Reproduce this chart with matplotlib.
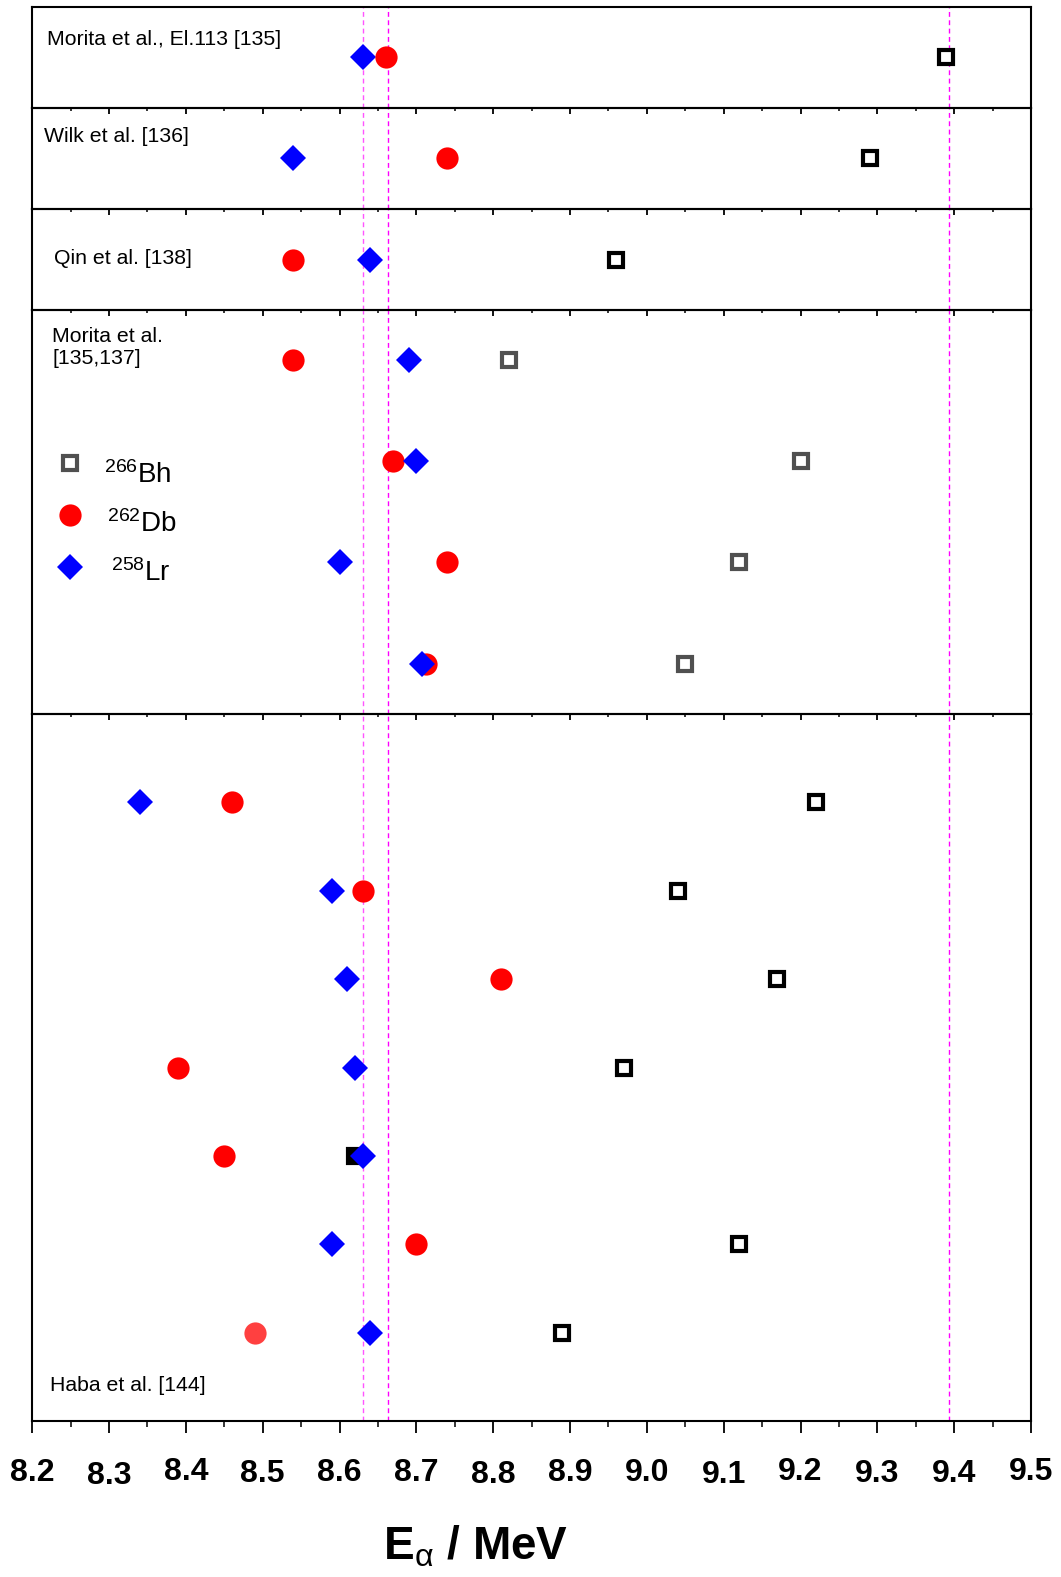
import matplotlib
matplotlib.use('Agg')
import matplotlib.pyplot as plt
import matplotlib.transforms as mtransforms
from matplotlib.ticker import MultipleLocator

plt.rcParams['font.family'] = ['Liberation Sans', 'DejaVu Sans']
plt.rcParams['mathtext.fontset'] = 'custom'
plt.rcParams['mathtext.rm'] = 'Liberation Sans'
plt.rcParams['mathtext.it'] = 'Liberation Sans:italic'
plt.rcParams['mathtext.bf'] = 'Liberation Sans:bold'

# ---- data (alpha energies, MeV), rows listed top -> bottom ----
titles = ['Morita et al., El.113 [135]', 'Wilk et al. [136]', 'Qin et al. [138]',
          'Morita et al.\n[135,137]', 'Haba et al. [144]']
bh = [[9.39], [9.29], [8.96],
      [8.82, 9.20, 9.12, 9.05],
      [9.22, 9.04, 9.17, 8.97, 8.62, 9.12, 8.89]]
db = [[8.66], [8.74], [8.54],
      [8.54, 8.67, 8.74, 8.713],
      [8.46, 8.63, 8.81, 8.39, 8.45, 8.70, 8.49]]
lr = [[8.63], [8.54], [8.64],
      [8.69, 8.70, 8.60, 8.707],
      [8.34, 8.59, 8.61, 8.62, 8.63, 8.59, 8.64]]
ref_lines = [8.63, 8.663, 9.393]
xticks = [8.2, 8.3, 8.4, 8.5, 8.6, 8.7, 8.8, 8.9, 9.0, 9.1, 9.2, 9.3, 9.4, 9.5]
# the original tick labels sit slightly uneven (pixels downwards)
tick_jitter = [0, 2.5, -1, 1, 0, 0, 2, 0, 0, 2, -1, 1, 1, -1]

W, H = 1061, 1577
fig = plt.figure(figsize=(W / 100, H / 100), dpi=100)
fig.patch.set_facecolor('white')

# panel edges in pixels (top, bottom)
edges = [(7, 107.6), (107.6, 209.2), (209.2, 309.8), (309.8, 714.1), (714.1, 1421.1)]
left_px, right_px = 32.2, 1031

title_pos = [(0.015, 0.68, 'center'), (0.012, 0.713, 'center'), (0.022, 0.51, 'center'),
             (0.020, 0.957, 'top'), (0.018, 0.051, 'center')]

RED = '#ff0000'
BLUE = '#0000ff'

axes = []
for i in range(5):
    top, bot = edges[i]
    ax = fig.add_axes([left_px / W, 1 - bot / H, (right_px - left_px) / W, (bot - top) / H])
    ax.patch.set_visible(False)
    axes.append(ax)
    n = len(bh[i])
    ax.set_xlim(8.2, 9.5)
    if n == 1:
        ax.set_ylim(0, 1)
        ys = [0.5]
    elif i == 3:
        ax.set_ylim(0, 4)
        ys = [3.5, 2.5, 1.5, 0.5]
    else:
        ax.set_ylim(0, 8)
        ys = [7, 6, 5, 4, 3, 2, 1]
    ax.set_yticks([])
    for s in ax.spines.values():
        s.set_linewidth(1.5)
    ax.xaxis.set_major_locator(MultipleLocator(0.1))
    ax.xaxis.set_minor_locator(MultipleLocator(0.05))

    for x in ref_lines:
        c = '#ff55ff' if x == ref_lines[0] else '#ff00ff'
        ax.axvline(x, color=c, lw=1.0, dashes=(3.5, 2.5), zorder=1)

    sq_edge = '#505050' if i == 3 else 'black'
    for k, (x, y) in enumerate(zip(bh[i], ys)):
        filled = (i == 4 and k == 4)
        ax.plot(x, y, marker='s', ms=10, mew=3, mec=sq_edge,
                mfc='black' if filled else 'white', ls='none', zorder=3)
    db_z = 5 if i == 0 else 4
    lr_z = 4 if i == 0 else 5
    for k, (x, y) in enumerate(zip(db[i], ys)):
        faded = (i == 4 and k == 6)
        ax.plot(x, y, marker='o', ms=16, mew=0, color=RED,
                alpha=0.75 if faded else 1, ls='none', zorder=db_z)
    for x, y in zip(lr[i], ys):
        ax.plot(x, y, marker='D', ms=13, mew=0, color=BLUE, ls='none', zorder=lr_z)

    tx, ty, va = title_pos[i]
    ax.text(tx, ty, titles[i], transform=ax.transAxes, fontsize=15.3, va=va, ha='left',
            linespacing=1.2)

    if i < 4:
        ax.tick_params(axis='x', which='major', direction='out', length=4.5, width=1.3,
                       top=False, bottom=True, labelbottom=False)
        ax.tick_params(axis='x', which='minor', direction='out', length=2.5, width=1.1,
                       top=False, bottom=True)
    else:
        ax.tick_params(axis='x', which='major', direction='out', length=8.6, width=1.3,
                       top=False, bottom=True, labelsize=23, pad=18)
        ax.tick_params(axis='x', which='minor', direction='out', length=4, width=1.1,
                       top=False, bottom=True)
        ax.set_xticks(xticks)
        labs = ax.set_xticklabels([f'{v:.1f}' for v in xticks], fontweight='bold')
        for lab, dy in zip(labs, tick_jitter):
            off = mtransforms.ScaledTranslation(0, -dy / 100, fig.dpi_scale_trans)
            lab.set_transform(lab.get_transform() + off)

# legend drawn inside the fourth panel
ax4 = axes[3]
leg_y = [2.48, 1.97, 1.46]
ax4.plot(8.249, leg_y[0], marker='s', ms=10, mew=3, mec='#505050', mfc='white', ls='none')
ax4.plot(8.249, leg_y[1], marker='o', ms=16, mew=0, color=RED, ls='none')
ax4.plot(8.249, leg_y[2], marker='D', ms=13, mew=0, color=BLUE, ls='none')
ax4.text(8.2935, 2.29, r'$^{266}$Bh', fontsize=20, va='baseline', ha='left')
ax4.text(8.297, 1.805, r'$^{262}$Db', fontsize=20, va='baseline', ha='left')
ax4.text(8.302, 1.32, r'$^{258}$Lr', fontsize=20, va='baseline', ha='left')

fig.text(476 / W, 1 - 1547 / H,
         r'$\mathbf{E}_{\mathrm{\alpha}}\ \mathbf{/\ MeV}$',
         fontsize=33, ha='center', va='center')

fig.savefig('out.png', dpi=100, facecolor='white')
